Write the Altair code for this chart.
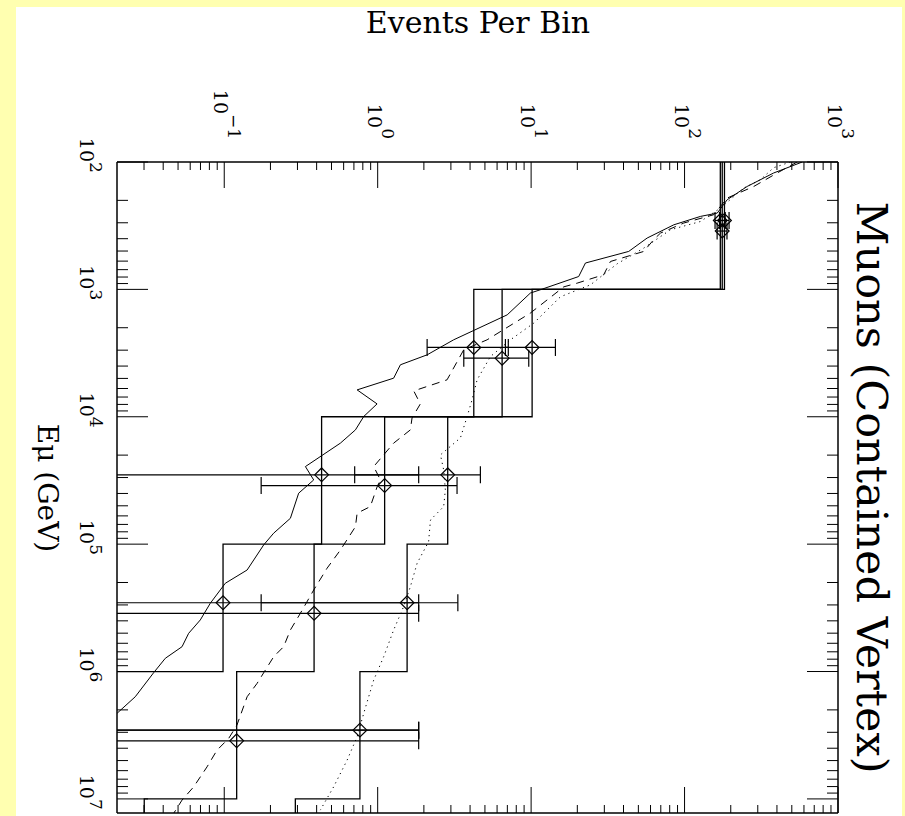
import altair as alt
import pandas as pd

FONT = "DejaVu Serif"
TITLE_FONT = "DejaVu Serif"
YELLOW = "#ffffb0"
W, H = 721, 651

X_DOMAIN = [0.02, 1000.0]
Y_DOMAIN = [100.0, 1.29e7]

x_major = [0.1, 1.0, 10.0, 100.0, 1000.0]
x_major_exponents = ["−1", "0", "1", "2", "3"]
y_major = [1e2, 1e3, 1e4, 1e5, 1e6, 1e7]
y_major_exponents = ["2", "3", "4", "5", "6", "7"]
label_base = "10"

x_title = "Events Per Bin"
y_title = "Eμ (GeV)"
panel_title = "Muons (Contained Vertex)"

# ---- smooth predictions (log10 of events, log10 of energy) ----
solid_log_events = [2.767, 2.581, 2.408, 2.278, 2.213, 2.104, 1.930, 1.756, 1.636, 1.354,
                    1.310, 1.072, 0.995, 0.844, 0.495, 0.322, 0.148, 0.104, -0.134, -0.004,
                    -0.091, -0.145, -0.243, -0.471, -0.417, -0.515, -0.569, -0.678, -0.743, -0.851,
                    -0.993, -1.091, -1.156, -1.232, -1.275, -1.384, -1.460, -1.580, -1.695, -1.81]
solid_log_energy = [2.000, 2.086, 2.192, 2.296, 2.401, 2.427, 2.493, 2.597, 2.702, 2.793,
                    2.899, 2.998, 3.029, 3.200, 3.396, 3.514, 3.592, 3.697, 3.789, 3.899,
                    3.998, 4.103, 4.207, 4.391, 4.496, 4.600, 4.797, 4.914, 5.006, 5.203,
                    5.307, 5.464, 5.595, 5.700, 5.805, 5.896, 6.009, 6.198, 6.324, 6.45]

dashed_log_events = [2.734, 2.604, 2.451, 2.278, 2.190, 1.995, 1.843, 1.799, 1.734, 1.517,
                     1.473, 1.300, 1.213, 0.995, 0.713, 0.561, 0.452, 0.235, 0.278, 0.224,
                     0.213, 0.104, -0.026, 0.018, -0.004, -0.048, -0.134, -0.145, -0.243, -0.330,
                     -0.417, -0.504, -0.569, -0.613, -0.678, -0.786, -0.851, -0.917, -0.971, -1.047,
                     -1.112, -1.199, -1.275, -1.330]
dashed_log_energy = [2.000, 2.086, 2.192, 2.283, 2.414, 2.479, 2.558, 2.610, 2.702, 2.781,
                     2.885, 2.951, 2.980, 3.186, 3.396, 3.474, 3.710, 3.797, 3.899, 4.009,
                     4.103, 4.207, 4.391, 4.496, 4.551, 4.705, 4.757, 4.863, 5.046, 5.189,
                     5.360, 5.543, 5.674, 5.805, 5.884, 6.093, 6.198, 6.420, 6.525, 6.617,
                     6.748, 6.905, 7.009, 7.114]

dotted_log_events = [2.690, 2.580, 2.495, 2.386, 2.234, 2.104, 1.908, 1.734, 1.561, 1.387,
                     1.191, 1.017, 0.865, 0.735, 0.648, 0.615, 0.583, 0.539, 0.409, 0.430,
                     0.441, 0.430, 0.344, 0.332, 0.257, 0.213, 0.169, 0.104, 0.039, -0.026,
                     -0.091, -0.134, -0.199, -0.287, -0.374]
dotted_log_energy = [2.000, 2.045, 2.139, 2.204, 2.361, 2.467, 2.532, 2.676, 2.799, 2.964,
                     3.058, 3.265, 3.396, 3.527, 3.710, 3.867, 3.998, 4.166, 4.299, 4.417,
                     4.574, 4.705, 4.810, 4.980, 5.150, 5.334, 5.491, 5.674, 5.884, 6.067,
                     6.328, 6.512, 6.695, 6.905, 7.088]

# ---- binned histograms (events per decade bin) ----
bin_edges = [1e2, 1e3, 1e4, 1e5, 1e6, 1e7, 1e8]
hist_solid = [171.0, 4.23, 0.431, 0.0982, 0.012, 0.004]
hist_dashed = [176.0, 6.47, 1.11, 0.385, 0.1205, 0.0301]
hist_dotted = [182.0, 10.15, 2.86, 1.555, 0.766, 0.2906]

# ---- "data" diamonds: energies (log10) of the two rows, error ranges ----
row_a_log_energy = [2.459, 3.456, 4.456, 5.460, 6.460]
row_b_log_energy = [2.542, 3.540, 4.540, 5.543, 6.544]
err_solid_lo = [158.0, 2.10, 0.005, 0.005, 0.005]
err_solid_hi = [184.0, 7.10, 1.85, 1.85, 1.85]
err_dashed_lo = [163.0, 3.64, 0.174, 0.005, 0.005]
err_dashed_hi = [189.0, 9.65, 3.29, 1.85, 1.85]
err_dotted_lo = [169.0, 6.80, 0.708, 0.174, 0.005]
err_dotted_hi = [195.0, 14.4, 4.67, 3.33, 1.85]

# ---------------------------------------------------------------
xs = alt.Scale(type="log", domain=X_DOMAIN, nice=False)
ys = alt.Scale(type="log", domain=Y_DOMAIN, nice=False, reverse=True)

x_axis = alt.Axis(orient="top", values=x_major, labels=False, ticks=False, tickSize=0,
                  domain=False, grid=False,
                  title=x_title, titleFont=TITLE_FONT, titleFontSize=30, titleFontWeight="normal",
                  titleColor="black", titleX=W / 2, titleY=-130, titleAlign="center",
                  titleBaseline="alphabetic", titleAngle=0)
y_axis = alt.Axis(orient="left", values=y_major, labels=False, ticks=False, tickSize=0,
                  domain=False, grid=False,
                  title=y_title, titleFont=FONT, titleFontSize=28, titleFontWeight="normal",
                  titleColor="black", titleX=-80, titleY=H / 2, titleAngle=90,
                  titleAlign="center", titleBaseline="alphabetic")


def X(field):
    return alt.X(f"{field}:Q", scale=xs, axis=x_axis, title=x_title)


def Y(field):
    return alt.Y(f"{field}:Q", scale=ys, axis=y_axis, title=y_title)


# yellow frame strips around the white page
one = pd.DataFrame({"a": [0]})
strips = [
    alt.Chart(one).mark_rect(fill=YELLOW, clip=False).encode(
        x=alt.value(-117), x2=alt.value(-101), y=alt.value(-162), y2=alt.value(H + 3)),
    alt.Chart(one).mark_rect(fill=YELLOW, clip=False).encode(
        x=alt.value(-117), x2=alt.value(W + 67), y=alt.value(-162), y2=alt.value(-155)),
    alt.Chart(one).mark_rect(fill=YELLOW, clip=False).encode(
        x=alt.value(W + 64), x2=alt.value(W + 67), y=alt.value(-162), y2=alt.value(H + 3)),
]

# histograms as step paths
hist_rows = []
for name, h in [("solid", hist_solid), ("dashed", hist_dashed), ("dotted", hist_dotted)]:
    k = 0
    for i, v in enumerate(h):
        hist_rows.append({"model": name, "n": v, "e": bin_edges[i], "o": k}); k += 1
        hist_rows.append({"model": name, "n": v, "e": bin_edges[i + 1], "o": k}); k += 1
hist_df = pd.DataFrame(hist_rows)
hist = alt.Chart(hist_df).mark_line(color="black", strokeWidth=1.3, clip=True).encode(
    x=X("n"), y=Y("e"), order="o:Q", detail="model:N")


def curve(le, lee, dash):
    df = pd.DataFrame({"n": [10 ** v for v in le], "e": [10 ** v for v in lee],
                       "o": list(range(len(le)))})
    kw = dict(color="black", strokeWidth=1, clip=True)
    if dash:
        kw["strokeDash"] = dash
    return alt.Chart(df).mark_line(**kw).encode(x=X("n"), y=Y("e"), order="o:Q")


c_solid = curve(solid_log_events, solid_log_energy, None)
c_dashed = curve(dashed_log_events, dashed_log_energy, [8, 6])
c_dotted = curve(dotted_log_events, dotted_log_energy, [1.2, 4])

pt_rows = []
for name, h, rows, lo, hi in [("solid", hist_solid, row_a_log_energy, err_solid_lo, err_solid_hi),
                              ("dashed", hist_dashed, row_b_log_energy, err_dashed_lo, err_dashed_hi),
                              ("dotted", hist_dotted, row_a_log_energy, err_dotted_lo, err_dotted_hi)]:
    for i in range(5):
        pt_rows.append({"model": name, "n": h[i], "e": 10 ** rows[i], "lo": lo[i], "hi": hi[i]})
pt_df = pd.DataFrame(pt_rows)

err = alt.Chart(pt_df).mark_rule(color="black", strokeWidth=1.2, clip=True).encode(
    x=X("lo"), x2="hi:Q", y=Y("e"))
cap_lo = alt.Chart(pt_df).mark_tick(orient="vertical", size=17, thickness=1.2, color="black",
                                    opacity=1, clip=True).encode(x=X("lo"), y=Y("e"))
cap_hi = alt.Chart(pt_df).mark_tick(orient="vertical", size=17, thickness=1.2, color="black",
                                    opacity=1, clip=True).encode(x=X("hi"), y=Y("e"))
pts = alt.Chart(pt_df).mark_point(shape="diamond", size=190, filled=False, color="black",
                                  strokeWidth=1.2, opacity=1, clip=True).encode(x=X("n"), y=Y("e"))

# inward axis ticks
x_minor = [m * 10.0 ** k for k in range(-2, 3) for m in range(2, 10)
           if X_DOMAIN[0] < m * 10.0 ** k < X_DOMAIN[1]]
y_minor = [m * 10.0 ** k for k in range(2, 8) for m in range(2, 10)
           if Y_DOMAIN[0] < m * 10.0 ** k < Y_DOMAIN[1]]
xmaj_df = pd.DataFrame({"v": x_major})
xmin_df = pd.DataFrame({"v": x_minor})
ymaj_df = pd.DataFrame({"v": y_major})
ymin_df = pd.DataFrame({"v": y_minor})

tick_layers = []
for df, ln in [(xmaj_df, 26), (xmin_df, 8)]:
    tick_layers.append(alt.Chart(df).mark_rule(color="black", strokeWidth=1).encode(
        x=X("v"), y=alt.value(0), y2=alt.value(ln)))
    tick_layers.append(alt.Chart(df).mark_rule(color="black", strokeWidth=1).encode(
        x=X("v"), y=alt.value(H - ln), y2=alt.value(H)))
for df, ln in [(ymaj_df, 31), (ymin_df, 11)]:
    tick_layers.append(alt.Chart(df).mark_rule(color="black", strokeWidth=1).encode(
        y=Y("v"), x=alt.value(0), x2=alt.value(ln)))
    tick_layers.append(alt.Chart(df).mark_rule(color="black", strokeWidth=1).encode(
        y=Y("v"), x=alt.value(W - ln), x2=alt.value(W)))

frame = [
    alt.Chart(one).mark_rule(color="black", strokeWidth=1.5).encode(x=alt.value(0), x2=alt.value(W), y=alt.value(0)),
    alt.Chart(one).mark_rule(color="black", strokeWidth=1.5).encode(x=alt.value(0), x2=alt.value(W), y=alt.value(H)),
    alt.Chart(one).mark_rule(color="black", strokeWidth=1.5).encode(y=alt.value(0), y2=alt.value(H), x=alt.value(0)),
    alt.Chart(one).mark_rule(color="black", strokeWidth=1.5).encode(y=alt.value(0), y2=alt.value(H), x=alt.value(W)),
]

# tick labels "10" with raised exponent, rotated like the rest of the page
BASE_FS, EXP_FS = 19, 17
xl_df = pd.DataFrame({"v": x_major, "base": [label_base] * len(x_major), "exp": x_major_exponents,
                      "nlen": [len(s) for s in x_major_exponents]})
yl_df = pd.DataFrame({"v": y_major, "base": [label_base] * len(y_major), "exp": y_major_exponents})
X_LAB_END = -23
label_layers = [
    alt.Chart(xl_df).mark_text(angle=90, align="right", baseline="alphabetic", font=FONT,
                               fontSize=EXP_FS, dy=-4, color="black").encode(
        x=X("v"), y=alt.value(X_LAB_END), text="exp:N"),
    alt.Chart(xl_df).transform_filter("datum.nlen == 1").mark_text(
        angle=90, align="right", baseline="alphabetic", font=FONT, fontSize=BASE_FS, dy=10,
        color="black").encode(x=X("v"), y=alt.value(X_LAB_END - 11), text="base:N"),
    alt.Chart(xl_df).transform_filter("datum.nlen == 2").mark_text(
        angle=90, align="right", baseline="alphabetic", font=FONT, fontSize=BASE_FS, dy=10,
        color="black").encode(x=X("v"), y=alt.value(X_LAB_END - 25), text="base:N"),
    alt.Chart(yl_df).mark_text(angle=90, align="right", baseline="alphabetic", font=FONT,
                               fontSize=BASE_FS, color="black").encode(
        y=Y("v"), x=alt.value(-37), text="base:N"),
    alt.Chart(yl_df).mark_text(angle=90, align="left", baseline="alphabetic", font=FONT,
                               fontSize=EXP_FS, color="black").encode(
        y=Y("v"), x=alt.value(-27), text="exp:N"),
]

side_title = alt.Chart(pd.DataFrame({"t": [panel_title]})).mark_text(
    angle=90, font=FONT, fontSize=43, baseline="alphabetic", align="center", color="black"
).encode(text="t:N", x=alt.value(739.7), y=alt.value(H / 2))

chart = alt.layer(*strips, hist, c_solid, c_dashed, c_dotted, err, cap_lo, cap_hi, pts,
                  *tick_layers, *frame, *label_layers, side_title).properties(
    width=W, height=H,
    padding={"left": 117, "top": 162, "right": 67, "bottom": 3},
    autosize=alt.AutoSizeParams(type="none"),
    background="white",
).configure_view(strokeWidth=0)

chart.save("out.html", embed_options={"renderer": "svg", "actions": False})
